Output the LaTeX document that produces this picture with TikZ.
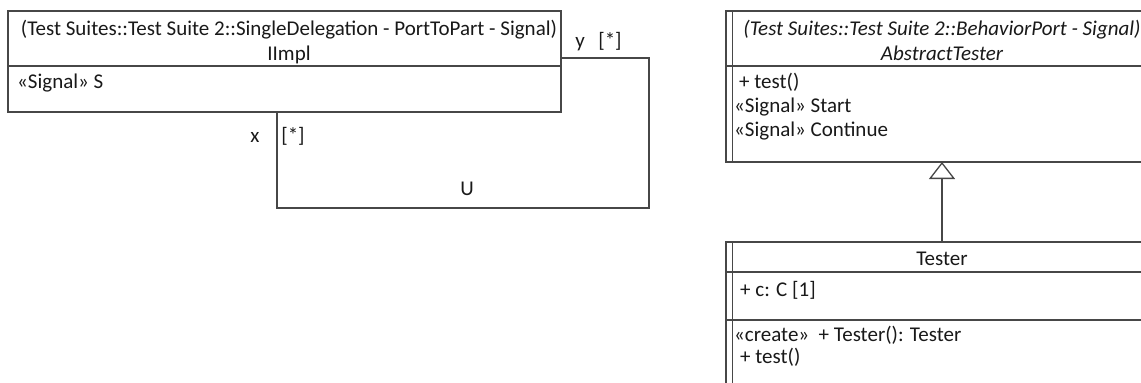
\documentclass[tikz,border=0pt]{standalone}
\usepackage{fontspec}
\setmainfont{Carlito}
\usetikzlibrary{arrows.meta}
\begin{document}
\begin{tikzpicture}[x=1pt,y=-1pt,
  linecol/.style={draw=black!72, line width=1.3pt},
  classbox/.style={linecol, fill=white, anchor=north west, inner sep=0pt, outer sep=0pt},
  txt/.style={inner sep=0pt, text=black!90, font=\fontsize{21}{24}\selectfont},
  lt/.style={txt, anchor=base west},
  ct/.style={txt, anchor=base},
  conn/.style={linecol},
  gen/.style={linecol, -{Triangle[open, length=17pt, width=26pt, fill=white]}}
]
\useasboundingbox (0,0) rectangle (1141,383);
\clip (0,0) rectangle (1141,383);

% ---- IImpl class
\node[classbox, minimum width=553pt, minimum height=101pt] (impl) at (8,11) {};
\draw[linecol] (impl.west |- 0,66) -- (impl.east |- 0,66);
\node[ct] (implst) at (289,35) {(Test Suites::Test Suite 2::SingleDelegation - PortToPart - Signal)};
\node[ct] (implname) at (289,60) {IImpl};
\node[lt] (implattr) at (17,88) {«Signal» S};

% ---- self association
\coordinate (ur) at (649,58);
\coordinate (ll) at (277,208);
\draw[conn] (impl.east |- ur) -- (ur) |- (ll) -- (ll |- impl.south);
\node[ct] (ly) at (580,47) {y};
\node[ct] (lym) at (610,47) {[*]};
\node[ct] (lx) at (255,142) {x};
\node[ct] (lxm) at (293,142) {[*]};
\node[ct] (lu) at (467,195) {U};

% ---- AbstractTester class
\node[classbox, minimum width=432pt, minimum height=151pt] (abs) at (726,11) {};
\draw[linecol] (732.5,11) -- (732.5,162);
\draw[linecol] (abs.west |- 0,66) -- (abs.east |- 0,66);
\node[ct, font=\fontsize{21}{24}\selectfont\itshape] (absst) at (942,35) {(Test Suites::Test Suite 2::BehaviorPort - Signal)};
\node[ct, font=\fontsize{21}{24}\selectfont\itshape] (absname) at (942,60) {AbstractTester};
\node[lt] (absop) at (739,88) {+ test()};
\node[lt] (abss1) at (734,112) {«Signal» Start};
\node[lt] (abss2) at (734,136) {«Signal» Continue};

% ---- Tester class
\node[classbox, minimum width=432pt, minimum height=170pt] (tst) at (726,242) {};
\draw[linecol] (732.5,242) -- (732.5,412);
\draw[linecol] (tst.west |- 0,272) -- (tst.east |- 0,272);
\draw[linecol] (tst.west |- 0,320) -- (tst.east |- 0,320);
\node[ct] (tstname) at (942,265) {Tester};
\node[lt] (tstattr) at (740,296) {+ c: C [1]};
\node[lt] (tstcr) at (734,341) {«create»\ \ + Tester(): Tester};
\node[lt] (tstop) at (740,363) {+ test()};

% ---- generalization
\draw[gen] (tst.north) -- (abs.south);
\end{tikzpicture}
\end{document}
